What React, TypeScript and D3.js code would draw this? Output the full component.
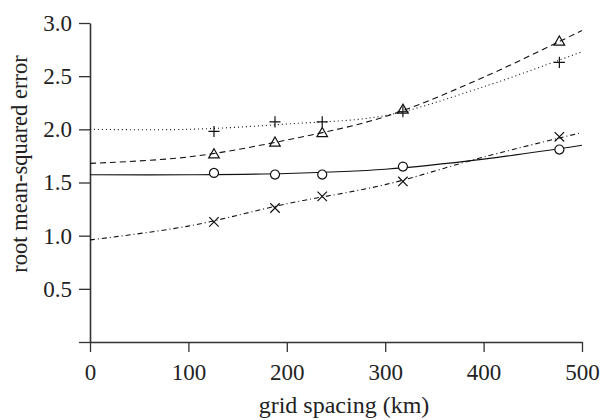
import React, {useRef, useEffect} from 'react';
import * as d3 from 'd3';

// grid spacing (km) of the experiments
const spacing = [126, 188, 236, 318, 477];

// measured RMSE per method
const circleVals = [1.59, 1.575, 1.575, 1.65, 1.81];
const plusVals = [1.98, 2.07, 2.07, 2.165, 2.63];
const triangleVals = [1.76, 1.87, 1.96, 2.18, 2.82];
const crossVals = [1.13, 1.26, 1.37, 1.51, 1.93];

// fitted curves, read at these grid spacings
const fitX = [0, 100, 200, 300, 400, 500];
const circleFit = [1.573, 1.573, 1.585, 1.625, 1.72, 1.85];
const plusFit = [2.0, 2.0, 2.05, 2.13, 2.4, 2.73];
const triangleFit = [1.68, 1.74, 1.9, 2.12, 2.49, 2.93];
const crossFit = [0.96, 1.09, 1.3, 1.48, 1.74, 1.97];

const xTicks = [0, 100, 200, 300, 400, 500];
const yTicks = [0.5, 1.0, 1.5, 2.0, 2.5, 3.0];

const series = [
    {vals: circleVals, fit: circleFit, symbol: d3.symbolCircle, size: 64, dash: null},
    {vals: plusVals, fit: plusFit, symbol: d3.symbolPlus, size: 42, dash: '1,3'},
    {vals: triangleVals, fit: triangleFit, symbol: d3.symbolTriangle2, size: 80, dash: '6,4'},
    {vals: crossVals, fit: crossFit, symbol: d3.symbolX, size: 60, dash: '5,3,1,3'},
];

const W = 602;
const H = 420;

const Chart = () => {
    const svgRef = useRef<SVGSVGElement>(null);

    useEffect(() => {
        const svg = d3.select(svgRef.current);
        svg.selectAll('*').remove();

        const margin = {top: 23, right: 20, bottom: 78, left: 90};
        const innerW = W - margin.left - margin.right;
        const innerH = H - margin.top - margin.bottom;

        const g = svg.append('g')
            .attr('transform', `translate(${margin.left}, ${margin.top})`);

        const x = d3.scaleLinear().domain([0, 500]).range([0, innerW]);
        const y = d3.scaleLinear().domain([0, 3]).range([innerH, 0]);

        const font = '"Liberation Serif", "DejaVu Serif", serif';

        // axes
        const xAxis = g.append('g')
            .attr('transform', `translate(0, ${innerH})`)
            .call(d3.axisBottom(x).tickValues(xTicks).tickFormat(d3.format('d')).tickSize(10).tickSizeOuter(0).tickPadding(12));
        const yAxis = g.append('g')
            .call(d3.axisLeft(y).tickValues([0, ...yTicks]).tickFormat(d => (d === 0 ? '' : d3.format('.1f')(d))).tickSize(11).tickSizeOuter(0).tickPadding(7));

        [xAxis, yAxis].forEach(a => {
            a.select('.domain').attr('stroke', '#333').attr('stroke-width', 1.6);
            a.selectAll('.tick line').attr('stroke', '#333').attr('stroke-width', 1.3);
            a.selectAll('.tick text')
                .attr('fill', '#222')
                .style('font-family', font)
                .style('font-size', '23px');
        });

        // fitted curves
        const line = d3.line<number>()
            .x((d, i) => x(fitX[i]))
            .y(d => y(d))
            .curve(d3.curveCatmullRom);

        series.forEach(s => {
            g.append('path')
                .datum(s.fit)
                .attr('fill', 'none')
                .attr('stroke', '#111')
                .attr('stroke-width', 1.1)
                .attr('stroke-dasharray', s.dash)
                .attr('d', line);
        });

        // markers
        series.forEach(s => {
            g.selectAll(null)
                .data(s.vals)
                .join('path')
                .attr('transform', (d, i) => `translate(${x(spacing[i])}, ${y(d)})`)
                .attr('d', d3.symbol(s.symbol, s.size)())
                .attr('fill', s.symbol === d3.symbolCircle ? '#fff' : 'none')
                .attr('stroke', '#111')
                .attr('stroke-width', 1.2);
        });

        // axis titles
        svg.append('text')
            .attr('x', 344)
            .attr('y', 413)
            .attr('text-anchor', 'middle')
            .style('font-family', font)
            .style('font-size', '24px')
            .attr('fill', '#222')
            .text('grid spacing (km)');

        svg.append('text')
            .attr('transform', 'translate(27, 164) rotate(-90)')
            .attr('text-anchor', 'middle')
            .style('font-family', font)
            .style('font-size', '22.5px')
            .attr('fill', '#222')
            .text('root mean-squared error');
    }, []);

    return <svg ref={svgRef} width={W} height={H} style={{display: 'block'}}/>;
};

export default function App() {
    return (
        <div style={{position: 'absolute', left: 0, top: 0}}>
            <Chart/>
        </div>
    );
}
